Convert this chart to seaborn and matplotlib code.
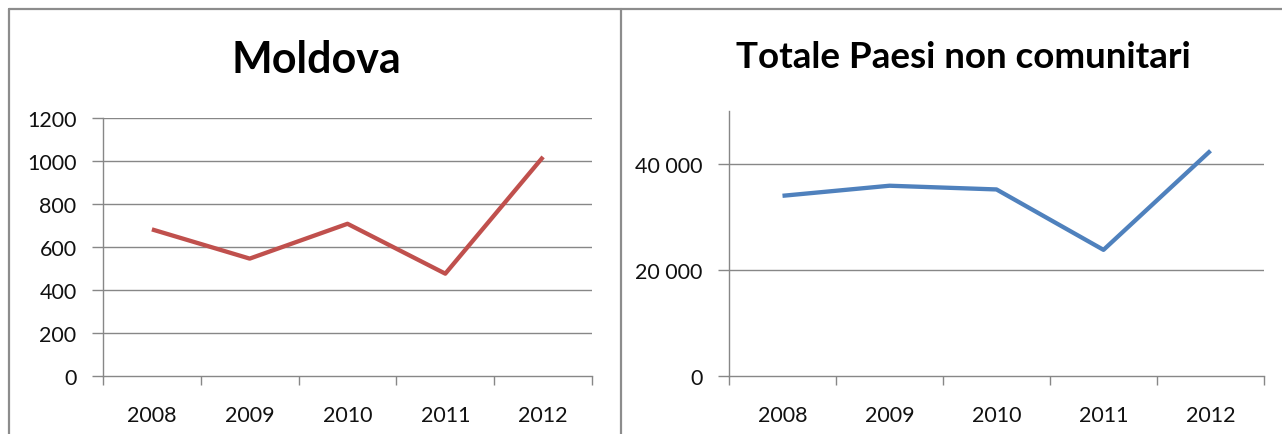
import matplotlib
matplotlib.use("Agg")
import matplotlib.pyplot as plt
from matplotlib.lines import Line2D
from matplotlib.ticker import FixedLocator, FuncFormatter
import seaborn as sns
import pandas as pd

# Annual figures, 2008-2012
years = ["2008", "2009", "2010", "2011", "2012"]
moldova = [682, 546, 708, 476, 1019]
non_eu_total = [34000, 35900, 35200, 23800, 42500]

titles = ["Moldova", "Totale Paesi non comunitari"]
moldova_ticks = [0, 200, 400, 600, 800, 1000, 1200]
total_ticks = [0, 20000, 40000]

sns.set_theme(style="white")
plt.rcParams["font.family"] = ["Lato", "DejaVu Sans"]

W, H = 1282, 435
fig = plt.figure(figsize=(W / 100, H / 100), dpi=100)
fig.patch.set_facecolor("white")

GRID = "#878787"
RED = "#C0504D"
BLUE = "#4F81BD"
TEXT = "#111111"


def px_axes(x0, x1, y_top, y_bot):
    return fig.add_axes([x0 / W, (H - y_bot) / H, (x1 - x0) / W, (y_bot - y_top) / H])


ax1 = px_axes(103, 592, 119, 377)
ax2 = px_axes(729, 1264, 112, 377)

df1 = pd.DataFrame({"year": range(len(years)), "value": moldova})
df2 = pd.DataFrame({"year": range(len(years)), "value": non_eu_total})

sns.lineplot(data=df1, x="year", y="value", ax=ax1, color=RED, linewidth=3.1,
             solid_capstyle="butt", zorder=3)
sns.lineplot(data=df2, x="year", y="value", ax=ax2, color=BLUE, linewidth=3.1,
             solid_capstyle="butt", zorder=3)


def style_axes(ax, ticks, ymax, fmt):
    ax.set_xlim(-0.5, len(years) - 0.5)
    ax.set_ylim(0, ymax)
    ax.set_xlabel("")
    ax.set_ylabel("")
    for s in ["top", "right"]:
        ax.spines[s].set_visible(False)
    for s in ["left", "bottom"]:
        ax.spines[s].set_color(GRID)
        ax.spines[s].set_linewidth(1.0)
    ax.yaxis.set_major_locator(FixedLocator(ticks))
    ax.yaxis.set_major_formatter(FuncFormatter(fmt))
    for t in ticks:
        if t > 0:
            ax.axhline(t, color=GRID, linewidth=1.0, zorder=1)
    # category labels centred, tick marks between categories
    ax.set_xticks(range(len(years)))
    ax.set_xticklabels(years)
    ax.set_xticks([i - 0.5 for i in range(len(years) + 1)], minor=True)
    ax.tick_params(axis="x", which="major", length=0, pad=21, labelsize=15.5,
                   labelcolor=TEXT)
    ax.tick_params(axis="x", which="minor", length=6.5, width=1.0, color=GRID,
                   direction="out", bottom=True)
    ax.tick_params(axis="y", which="major", length=8, width=1.0, color=GRID,
                   direction="out", left=True, pad=11, labelsize=15.5,
                   labelcolor=TEXT)
    ax.set_facecolor("white")


style_axes(ax1, moldova_ticks, 1200, lambda v, p: f"{int(v)}")
style_axes(ax2, total_ticks, 50000,
           lambda v, p: f"{int(v):,}".replace(",", " ") if v else "0")

# chart titles
fig.text(316 / W, 1 - 73 / H, titles[0], ha="center", va="baseline",
         fontsize=31, fontweight="bold", color="black")
fig.text(963 / W, 1 - 68 / H, titles[1], ha="center", va="baseline",
         fontsize=26.5, fontweight="bold", color="black")

# outer frame lines around the two chart areas
FRAME = "#8c8c8c"
fig.add_artist(Line2D([9 / W, 1], [1 - 10 / H, 1 - 10 / H], color=FRAME,
                      linewidth=1.6, transform=fig.transFigure))
fig.add_artist(Line2D([9 / W, 9 / W], [0, 1 - 10 / H], color=FRAME,
                      linewidth=1.6, transform=fig.transFigure))
fig.add_artist(Line2D([621 / W, 621 / W], [0, 1 - 10 / H], color=FRAME,
                      linewidth=1.6, transform=fig.transFigure))

fig.savefig("out.png", dpi=100, facecolor="white")
